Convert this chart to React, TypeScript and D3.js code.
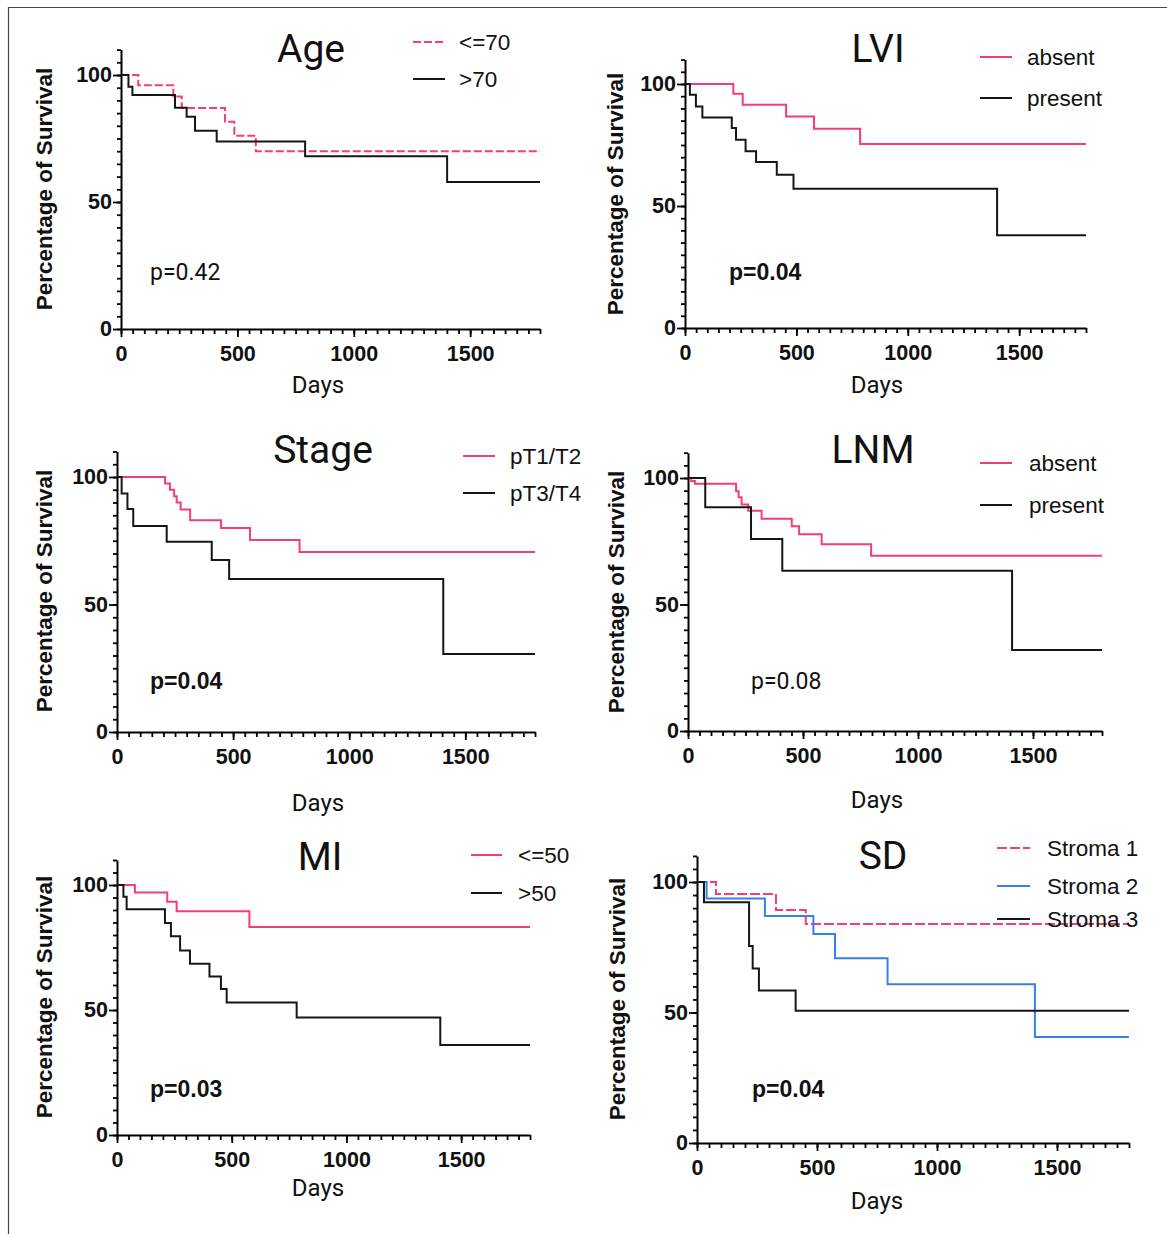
import { useEffect, useRef } from "react";
import * as d3 from "d3";

const PINK = "#f23d78";
const BLUE = "#3a7ff0";
const BLACK = "#161616";

const X_MAJOR = [0, 500, 1000, 1500];
const Y_MAJOR = [0, 50, 100];

// Age
const AGE_LE70_DAYS = [0, 74, 225, 261, 447, 487, 579, 1800];
const AGE_LE70_SURV = [100, 96, 91.5, 87, 81.6, 76.1, 70, 70];
const AGE_GT70_DAYS = [0, 32, 49, 232, 282, 318, 411, 791, 1401, 1800];
const AGE_GT70_SURV = [100, 95.4, 92.1, 87.1, 83.6, 78.1, 73.8, 68, 57.9, 57.9];

// LVI
const LVI_ABS_DAYS = [0, 217, 259, 454, 579, 786, 1800];
const LVI_ABS_SURV = [100, 96, 91.5, 86.7, 81.7, 75.4, 75.4];
const LVI_PRES_DAYS = [0, 22, 49, 78, 210, 229, 272, 319, 412, 487, 1401, 1800];
const LVI_PRES_SURV = [100, 95.6, 90.8, 86.3, 82, 77.2, 72.4, 68, 62.8, 57.1, 38, 38];

// Stage
const STAGE_T12_DAYS = [0, 207, 228, 246, 257, 274, 315, 448, 573, 786, 1800];
const STAGE_T12_SURV = [100, 97.5, 95, 92.5, 90, 87.3, 83, 80, 75.3, 70.6, 70.6];
const STAGE_T34_DAYS = [0, 20, 45, 70, 214, 408, 483, 1405, 1800];
const STAGE_T34_SURV = [100, 93.5, 87.5, 80.8, 74.6, 67.5, 60, 30.6, 30.6];

// LNM
const LNM_ABS_DAYS = [0, 14, 30, 209, 220, 233, 262, 320, 451, 483, 581, 796, 1800];
const LNM_ABS_SURV = [100, 98.8, 97.7, 94.8, 92.4, 89.5, 87.1, 83.9, 80.9, 77.8, 73.8, 69.3, 69.3];
const LNM_PRES_DAYS = [0, 75, 274, 410, 1409, 1800];
const LNM_PRES_SURV = [100, 88.4, 75.9, 63.3, 32, 32];

// MI
const MI_LE50_DAYS = [0, 78, 219, 260, 577, 1800];
const MI_LE50_SURV = [100, 97, 93.3, 89.5, 83.2, 83.2];
const MI_GT50_DAYS = [0, 28, 42, 209, 235, 275, 318, 403, 453, 478, 783, 1409, 1800];
const MI_GT50_SURV = [100, 95.3, 90.3, 84.8, 79.5, 73.8, 68.5, 63.4, 58.4, 53, 47, 36, 36];

// SD
const SD_S1_DAYS = [0, 79, 329, 453, 1800];
const SD_S1_SURV = [100, 95.4, 89.3, 83.9, 83.9];
const SD_S2_DAYS = [0, 40, 283, 485, 575, 794, 1408, 1800];
const SD_S2_SURV = [100, 93.7, 87, 80.1, 70.8, 60.8, 40.6, 40.6];
const SD_S3_DAYS = [0, 29, 217, 232, 258, 411, 1800];
const SD_S3_SURV = [100, 92.2, 75.5, 66.9, 58.4, 50.7, 50.7];

const zip = (days: number[], surv: number[]) => days.map((d, i) => ({ d, s: surv[i] }));

const PANELS = [
  {
    title: "Age", p: "p=0.42", pBold: false,
    series: [
      { label: "<=70", data: zip(AGE_LE70_DAYS, AGE_LE70_SURV), color: PINK, dash: "8,3" },
      { label: ">70", data: zip(AGE_GT70_DAYS, AGE_GT70_SURV), color: BLACK, dash: null },
    ],
    box: { x0: 121, x1: 540, y0: 329, y100: 75 },
    titleAt: [311, 62], legX: [413, 445, 459], legY: [42, 79],
    pAt: [150, 272], daysAt: [318, 385], yLabAt: [44, 189],
  },
  {
    title: "LVI", p: "p=0.04", pBold: true,
    series: [
      { label: "absent", data: zip(LVI_ABS_DAYS, LVI_ABS_SURV), color: PINK, dash: null },
      { label: "present", data: zip(LVI_PRES_DAYS, LVI_PRES_SURV), color: BLACK, dash: null },
    ],
    box: { x0: 685, x1: 1086, y0: 328, y100: 84 },
    titleAt: [878, 62], legX: [980, 1012, 1027], legY: [57, 98],
    pAt: [729, 272], daysAt: [877, 385], yLabAt: [615, 194],
  },
  {
    title: "Stage", p: "p=0.04", pBold: true,
    series: [
      { label: "pT1/T2", data: zip(STAGE_T12_DAYS, STAGE_T12_SURV), color: PINK, dash: null },
      { label: "pT3/T4", data: zip(STAGE_T34_DAYS, STAGE_T34_SURV), color: BLACK, dash: null },
    ],
    box: { x0: 117, x1: 535, y0: 732, y100: 477 },
    titleAt: [323, 463], legX: [463, 495, 510], legY: [456, 493],
    pAt: [150, 681], daysAt: [318, 803], yLabAt: [44, 591],
  },
  {
    title: "LNM", p: "p=0.08", pBold: false,
    series: [
      { label: "absent", data: zip(LNM_ABS_DAYS, LNM_ABS_SURV), color: PINK, dash: null },
      { label: "present", data: zip(LNM_PRES_DAYS, LNM_PRES_SURV), color: BLACK, dash: null },
    ],
    box: { x0: 688, x1: 1102, y0: 731, y100: 478 },
    titleAt: [873, 463], legX: [980, 1012, 1029], legY: [463, 505],
    pAt: [751, 681], daysAt: [877, 800], yLabAt: [616, 592],
  },
  {
    title: "MI", p: "p=0.03", pBold: true,
    series: [
      { label: "<=50", data: zip(MI_LE50_DAYS, MI_LE50_SURV), color: PINK, dash: null },
      { label: ">50", data: zip(MI_GT50_DAYS, MI_GT50_SURV), color: BLACK, dash: null },
    ],
    box: { x0: 117, x1: 530, y0: 1135, y100: 885 },
    titleAt: [320, 870], legX: [471, 502, 518], legY: [855, 893],
    pAt: [150, 1089], daysAt: [318, 1188], yLabAt: [44, 997],
  },
  {
    title: "SD", p: "p=0.04", pBold: true,
    series: [
      { label: "Stroma 1", data: zip(SD_S1_DAYS, SD_S1_SURV), color: PINK, dash: "10,3" },
      { label: "Stroma 2", data: zip(SD_S2_DAYS, SD_S2_SURV), color: BLUE, dash: null },
      { label: "Stroma 3", data: zip(SD_S3_DAYS, SD_S3_SURV), color: BLACK, dash: null },
    ],
    box: { x0: 697, x1: 1129, y0: 1143, y100: 882 },
    titleAt: [883, 869], legX: [997, 1030, 1047], legY: [848, 886, 919],
    pAt: [752, 1089], daysAt: [877, 1201], yLabAt: [617, 999],
  },
];

const ARIAL = "'Liberation Sans', Arial, sans-serif";
const ROBOTO = "Roboto, 'Noto Sans', sans-serif";

export default function App() {
  const svgRef = useRef<SVGSVGElement>(null);

  useEffect(() => {
    const svg = d3.select(svgRef.current);
    svg.selectAll("*").remove();

    // frame
    svg.append("path").attr("d", "M8.5,1234 L8.5,7.5 L1167,7.5")
      .attr("fill", "none").attr("stroke", "#444").attr("stroke-width", 1.2);

    PANELS.forEach(p => {
      const b = p.box;
      const x = d3.scaleLinear().domain([0, 1800]).range([b.x0, b.x1]);
      const y = d3.scaleLinear().domain([0, 110]).range([b.y0, b.y0 - 1.1 * (b.y0 - b.y100)]);
      const g = svg.append("g");

      // ── axes ──
      const styleAxis = (a: any) => {
        a.select(".domain").attr("stroke", "#000").attr("stroke-width", 2);
        a.selectAll(".tick line").attr("stroke", "#000").attr("stroke-width", 1.8);
        a.selectAll("text").attr("fill", "#111").attr("font-family", ARIAL)
          .attr("font-weight", 700).attr("font-size", 21.5);
      };

      g.append("g").attr("transform", `translate(${b.x0},0)`)
        .call(d3.axisLeft(y).tickValues(d3.range(0, 111, 5)).tickSize(4).tickSizeOuter(0).tickFormat(() => ""))
        .call(styleAxis);
      g.append("g").attr("transform", `translate(${b.x0},0)`)
        .call(d3.axisLeft(y).tickValues(Y_MAJOR).tickSize(8).tickSizeOuter(0).tickPadding(1).tickFormat(d3.format("d")))
        .call(styleAxis)
        .call(a => a.select(".domain").remove());

      g.append("g").attr("transform", `translate(0,${b.y0})`)
        .call(d3.axisBottom(x).tickValues(d3.range(0, 1801, 50)).tickSize(5).tickSizeOuter(0).tickFormat(() => ""))
        .call(styleAxis);
      g.append("g").attr("transform", `translate(0,${b.y0})`)
        .call(d3.axisBottom(x).tickValues(X_MAJOR).tickSize(8).tickSizeOuter(0).tickPadding(9).tickFormat(d3.format("d")))
        .call(styleAxis)
        .call(a => a.select(".domain").remove());

      // ── curves ──
      const line = d3.line<{ d: number; s: number }>()
        .x(d => x(d.d)).y(d => y(d.s)).curve(d3.curveStepAfter);

      p.series.forEach(s => {
        g.append("path").datum(s.data)
          .attr("fill", "none").attr("stroke", s.color).attr("stroke-width", 2)
          .attr("stroke-dasharray", s.dash ?? null).attr("d", line);
      });

      // ── legend ──
      p.series.forEach((s, i) => {
        const ly = p.legY[i];
        g.append("line").attr("x1", p.legX[0]).attr("x2", p.legX[1]).attr("y1", ly).attr("y2", ly)
          .attr("stroke", s.color).attr("stroke-width", 2).attr("stroke-dasharray", s.dash ?? null);
        g.append("text").attr("x", p.legX[2]).attr("y", ly).attr("dy", "0.35em")
          .attr("font-family", ARIAL).attr("font-size", 22.5).attr("fill", "#111").text(s.label);
      });

      // ── texts ──
      g.append("text").attr("x", p.titleAt[0]).attr("y", p.titleAt[1]).attr("text-anchor", "middle")
        .attr("font-family", ROBOTO).attr("font-size", 39).attr("fill", "#111").text(p.title);

      g.append("text").attr("x", p.pAt[0]).attr("y", p.pAt[1]).attr("dy", "0.35em")
        .attr("font-family", p.pBold ? ARIAL : ROBOTO).attr("font-weight", p.pBold ? 700 : 400)
        .attr("font-size", 23).attr("fill", "#111").text(p.p);

      g.append("text").attr("x", p.daysAt[0]).attr("y", p.daysAt[1]).attr("dy", "0.35em")
        .attr("text-anchor", "middle").attr("font-family", ROBOTO).attr("font-size", 24)
        .attr("fill", "#111").text("Days");

      g.append("text").attr("transform", `translate(${p.yLabAt[0]},${p.yLabAt[1]}) rotate(-90)`)
        .attr("dy", "0.35em").attr("text-anchor", "middle").attr("font-family", ARIAL)
        .attr("font-weight", 700).attr("font-size", 22.5).attr("fill", "#111")
        .text("Percentage of Survival");
    });
  }, []);

  return (
    <svg ref={svgRef} width={1167} height={1234}
      style={{ position: "absolute", left: 0, top: 0, background: "#fff", display: "block" }} />
  );
}
